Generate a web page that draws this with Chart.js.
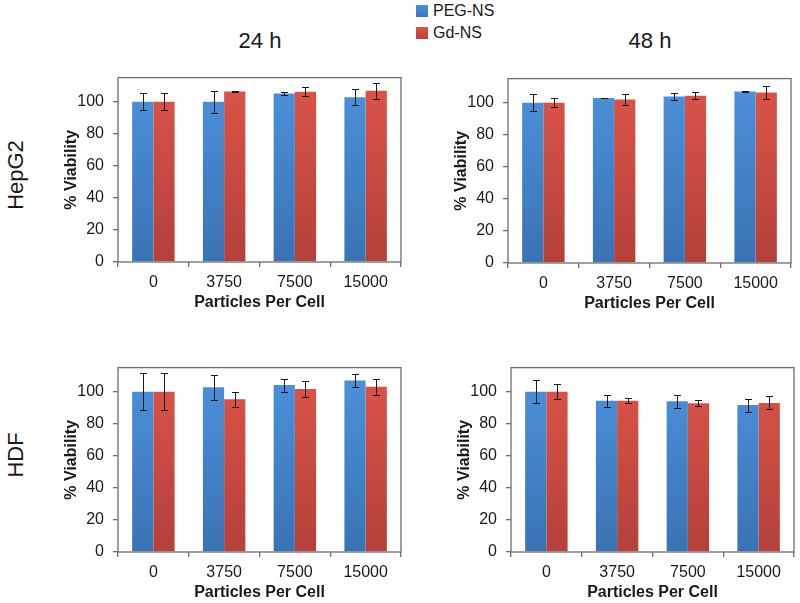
<!DOCTYPE html>
<html>
<head>
<meta charset="utf-8">
<script src="https://cdn.jsdelivr.net/npm/chart.js@4.4.1/dist/chart.umd.min.js"></script>
<style>
  body { margin: 0; background: #fff; font-family: "Liberation Sans", Arial, sans-serif; color: #1a1a1a; }
  #page { position: relative; width: 800px; height: 603px; overflow: hidden; }
  canvas { position: absolute; }
  .lbl { position: absolute; white-space: nowrap; }
  .head { font-size: 22px; transform: translate(-50%, -50%); }
  .row { font-size: 22px; transform: translate(-50%, -50%) rotate(-90deg); }
  .leg { font-size: 16px; display: flex; align-items: center; gap: 5px; }
  .sw { width: 12px; height: 12px; display: inline-block; }
</style>
</head>
<body>
<div id="page">
  <div class="lbl leg" style="left:416px; top:2px;"><span class="sw" style="background:linear-gradient(#4d92dc,#3b75b6)"></span>PEG-NS</div>
  <div class="lbl leg" style="left:416px; top:24px;"><span class="sw" style="background:linear-gradient(#dc5348,#b8433b)"></span>Gd-NS</div>

  <div class="lbl head" style="left:260px; top:41px;">24 h</div>
  <div class="lbl head" style="left:650px; top:41px;">48 h</div>
  <div class="lbl row" style="left:16px; top:175px;">HepG2</div>
  <div class="lbl row" style="left:16px; top:455px;">HDF</div>

  <canvas id="c-hepg2-24" width="360" height="253" style="left:50px; top:59px;"></canvas>
  <canvas id="c-hepg2-48" width="360" height="253" style="left:440px; top:60px;"></canvas>
  <canvas id="c-hdf-24"   width="360" height="253" style="left:50px; top:349px;"></canvas>
  <canvas id="c-hdf-48"   width="360" height="253" style="left:443px; top:349px;"></canvas>
</div>

<script>
// ─── DATA ─────────────────────────────────────────────────────────
const categories = ["0", "3750", "7500", "15000"];
const yTicks     = [0, 20, 40, 60, 80, 100];

// HepG2, 24 h
const hepg2_24_peg    = [100, 100, 105.1, 102.7];
const hepg2_24_pegErr = [5.5, 6.8, 1.0, 5.0];
const hepg2_24_gd     = [100, 106.4, 106.1, 106.8];
const hepg2_24_gdErr  = [5.5, 0.3, 2.8, 5.0];

// HepG2, 48 h
const hepg2_48_peg    = [100, 102.9, 103.9, 107.0];
const hepg2_48_pegErr = [5.4, 0.3, 2.2, 0.3];
const hepg2_48_gd     = [100, 101.9, 104.3, 106.4];
const hepg2_48_gdErr  = [2.7, 3.3, 2.1, 4.0];

// HDF, 24 h
const hdf_24_peg    = [100, 102.7, 104.1, 107.0];
const hdf_24_pegErr = [11.7, 7.8, 4.1, 3.8];
const hdf_24_gd     = [100, 95.3, 101.6, 103.1];
const hdf_24_gdErr  = [11.7, 4.7, 4.9, 4.9];

// HDF, 48 h
const hdf_48_peg    = [100, 94.4, 94.0, 91.6];
const hdf_48_pegErr = [7.0, 3.8, 4.1, 4.0];
const hdf_48_gd     = [100, 94.4, 92.8, 93.0];
const hdf_48_gdErr  = [4.8, 1.6, 1.8, 4.1];

// ─── STYLE ────────────────────────────────────────────────────────
const FONT   = "'Liberation Sans', Arial, sans-serif";
const AXIS   = "#6e6e6e";
const TEXT   = "#1a1a1a";
const BLUE   = ["#4d92dc", "#3a73b3"];   // top -> bottom
const RED    = ["#dd5449", "#b4413a"];

// vertical gradient that spans the plot area
function gradient(colors) {
  return (ctx) => {
    const area = ctx.chart.chartArea;
    if (!area) return colors[0];
    const g = ctx.chart.ctx.createLinearGradient(0, area.top, 0, area.bottom);
    g.addColorStop(0, colors[0]);
    g.addColorStop(1, colors[1]);
    return g;
  };
}

// frame around the plot area (Excel style box)
const framePlugin = {
  id: "frame",
  afterDraw(chart) {
    const { ctx, chartArea: a } = chart;
    ctx.save();
    ctx.strokeStyle = AXIS;
    ctx.lineWidth = 1.3;
    ctx.strokeRect(a.left, a.top, a.right - a.left, a.bottom - a.top);
    ctx.restore();
  }
};

// error bars, values taken from dataset.err
const errorBarPlugin = {
  id: "errorBars",
  afterDatasetsDraw(chart) {
    const { ctx } = chart;
    const y = chart.scales.y;
    ctx.save();
    ctx.strokeStyle = "#1a1a1a";
    ctx.lineWidth = 1;
    chart.data.datasets.forEach((ds, di) => {
      const meta = chart.getDatasetMeta(di);
      meta.data.forEach((bar, i) => {
        const v = ds.data[i], e = ds.err[i];
        const top = Math.round(y.getPixelForValue(v + e)) + 0.5;
        const bot = Math.round(y.getPixelForValue(v - e)) + 0.5;
        const x = Math.round(bar.x) + 0.5;
        ctx.beginPath();
        ctx.moveTo(x, top); ctx.lineTo(x, bot);
        ctx.moveTo(x - 3.5, top); ctx.lineTo(x + 3.5, top);
        ctx.moveTo(x - 3.5, bot); ctx.lineTo(x + 3.5, bot);
        ctx.stroke();
      });
    });
    ctx.restore();
  }
};

// ─── BUILD ONE PANEL ──────────────────────────────────────────────
function makePanel(id, peg, pegErr, gd, gdErr) {
  const ctx = document.getElementById(id).getContext("2d");
  return new Chart(ctx, {
    type: "bar",
    data: {
      labels: categories,
      datasets: [
        { label: "PEG-NS", data: peg, err: pegErr, backgroundColor: gradient(BLUE),
          borderWidth: 0, categoryPercentage: 0.6, barPercentage: 1.0 },
        { label: "Gd-NS",  data: gd,  err: gdErr,  backgroundColor: gradient(RED),
          borderWidth: 0, categoryPercentage: 0.6, barPercentage: 1.0 }
      ]
    },
    options: {
      responsive: false,
      animation: false,
      devicePixelRatio: 1,
      layout: { padding: { top: 6, right: 9, left: 0, bottom: 0 } },
      plugins: { legend: { display: false }, tooltip: { enabled: false } },
      scales: {
        x: {
          afterFit: (s) => { s.height = 50; },
          grid: { offset: true, drawOnChartArea: false, drawTicks: true, tickLength: 5, color: AXIS, lineWidth: 1.3 },
          border: { display: false },
          ticks: { color: TEXT, font: { family: FONT, size: 16 }, padding: 6, maxRotation: 0 },
          title: { display: true, text: "Particles Per Cell", color: TEXT,
                   font: { family: FONT, size: 16, weight: "bold" }, padding: { top: 0, bottom: 0 } }
        },
        y: {
          min: 0,
          max: 115,
          afterFit: (s) => { s.width = 68; },
          afterBuildTicks: (s) => { s.ticks = yTicks.map(v => ({ value: v })); },
          grid: { drawOnChartArea: false, drawTicks: true, tickLength: 5, color: AXIS, lineWidth: 1.3 },
          border: { display: false },
          ticks: { color: TEXT, font: { family: FONT, size: 16 }, padding: 9 },
          title: { display: true, text: "% Viability", color: TEXT,
                   font: { family: FONT, size: 16, weight: "bold" }, padding: { top: 12, bottom: 0 } }
        }
      }
    },
    plugins: [framePlugin, errorBarPlugin]
  });
}

makePanel("c-hepg2-24", hepg2_24_peg, hepg2_24_pegErr, hepg2_24_gd, hepg2_24_gdErr);
makePanel("c-hepg2-48", hepg2_48_peg, hepg2_48_pegErr, hepg2_48_gd, hepg2_48_gdErr);
makePanel("c-hdf-24",   hdf_24_peg,   hdf_24_pegErr,   hdf_24_gd,   hdf_24_gdErr);
makePanel("c-hdf-48",   hdf_48_peg,   hdf_48_pegErr,   hdf_48_gd,   hdf_48_gdErr);
</script>
</body>
</html>
